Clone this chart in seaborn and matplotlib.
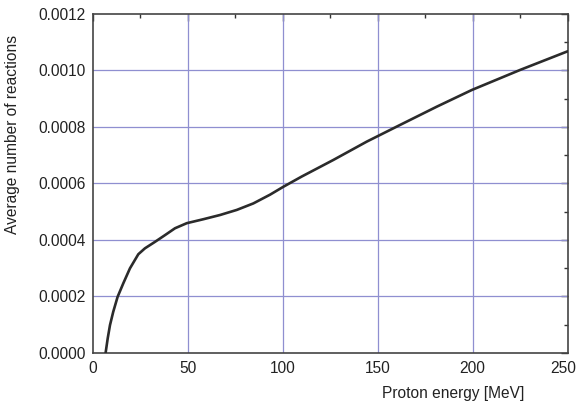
import matplotlib
matplotlib.use("Agg")
import matplotlib.pyplot as plt
import matplotlib.transforms as mtransforms
import pandas as pd
import seaborn as sns
from matplotlib.ticker import MultipleLocator, FormatStrFormatter

# values
energy_mev = [6.9, 8.0, 9.2, 10.9, 13.2, 16.2, 19.7, 24.1, 27.6, 32.9, 38.2, 43.4,
              49.6, 58.3, 67.1, 75.9, 84.6, 93.4, 100.4, 110.0, 126.7, 144.3,
              161.8, 181.2, 199.6, 225.0, 250.0]
avg_reactions = [0.0, 0.000051, 0.000098, 0.000145, 0.000198, 0.000246, 0.000299,
                 0.000349, 0.000370, 0.000393, 0.000417, 0.000441, 0.000459,
                 0.000473, 0.000488, 0.000506, 0.000529, 0.000560, 0.000588,
                 0.000624, 0.000683, 0.000748, 0.000807, 0.000872, 0.000931,
                 0.001002, 0.001068]

x_ticks = [0, 50, 100, 150, 200, 250]
y_ticks = [0.0, 0.0002, 0.0004, 0.0006, 0.0008, 0.0010, 0.0012]

df = pd.DataFrame({"energy": energy_mev, "reactions": avg_reactions})

sns.set_theme(style="white")
plt.rcParams["font.family"] = ["Liberation Sans", "DejaVu Sans"]

fig = plt.figure(figsize=(5.76, 4.05), dpi=100)
ax = fig.add_axes([0.1606, 0.129, 0.825, 0.8364])

grid_color = "#8f8fd0"
for xv in x_ticks[1:-1]:
    ax.axvline(xv, color=grid_color, lw=0.9, zorder=1)
for yv in y_ticks[1:-1]:
    ax.axhline(yv, color=grid_color, lw=0.9, zorder=1)

sns.lineplot(data=df, x="energy", y="reactions", ax=ax, color="#2b2b2b",
             linewidth=1.9, zorder=3)

ax.set_xlim(0, 250)
ax.set_ylim(0, 0.0012)
ax.set_xticks(x_ticks)
ax.set_yticks(y_ticks)
ax.xaxis.set_minor_locator(MultipleLocator(25))
ax.yaxis.set_minor_locator(MultipleLocator(0.0001))
ax.yaxis.set_major_formatter(FormatStrFormatter("%.4f"))

fs = 11.2
ax.tick_params(which="both", direction="in", top=True, right=True,
               color="#333333", labelsize=fs, labelcolor="#222222", width=1.0)
ax.tick_params(which="major", length=5)
ax.tick_params(which="minor", length=3)
ax.tick_params(axis="x", pad=6)
ax.tick_params(axis="y", pad=5)

# nudge the last x label a little so it stays inside the canvas
last = ax.get_xticklabels()[-1]
last.set_transform(last.get_transform() +
                   mtransforms.ScaledTranslation(-5 / 100, 0, fig.dpi_scale_trans))

for sp in ax.spines.values():
    sp.set_color("#444444")
    sp.set_linewidth(1.2)

ax.set_xlabel("Proton energy [MeV]", fontsize=fs, color="#222222")
ax.set_ylabel("Average number of reactions", fontsize=fs, color="#222222")
ax.xaxis.set_label_coords(0.76, -0.097)
ax.yaxis.set_label_coords(-0.152, 0.645)

fig.savefig("out.png", dpi=100)
